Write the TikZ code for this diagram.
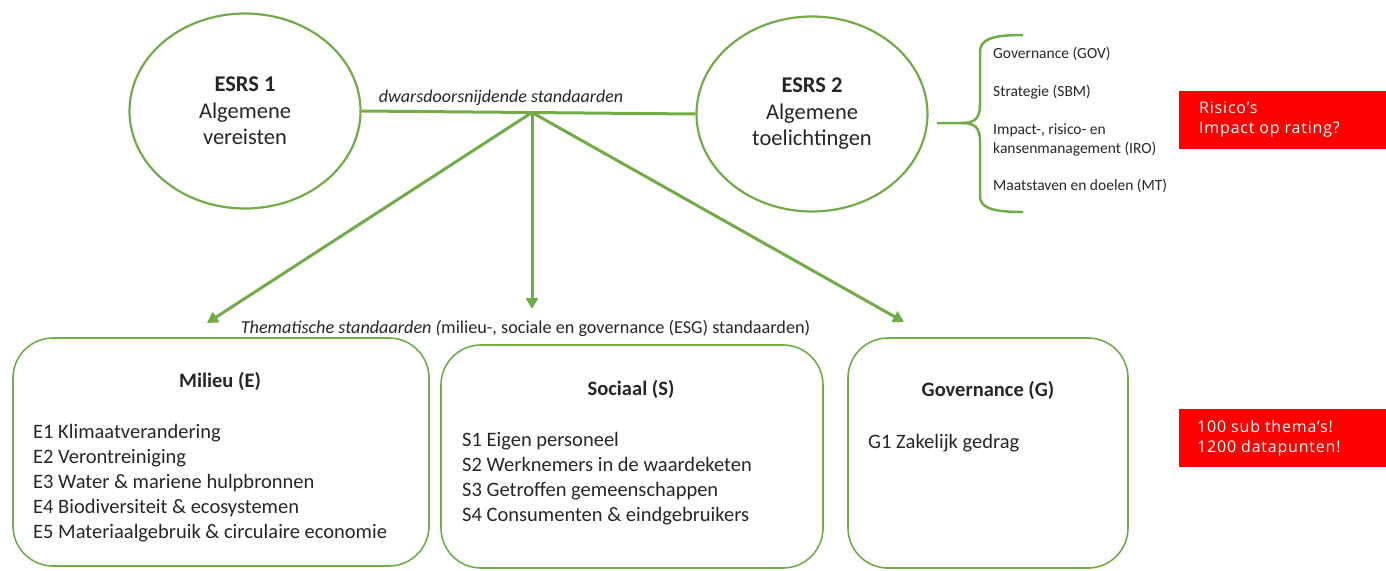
\documentclass[tikz,border=0pt]{standalone}
\usepackage{fontspec}
\setmainfont{Carlito}
\newfontfamily\redfont[LetterSpace=5]{Open Sans}
\usetikzlibrary{shapes.geometric,arrows.meta}
\definecolor{grn}{HTML}{70AD47}
\definecolor{rd}{HTML}{FF0000}
\definecolor{txtc}{HTML}{262626}
\begin{document}
\begin{tikzpicture}[x=1pt,y=-1pt,
  grnline/.style={draw=grn,line width=3pt},
  oval/.style={ellipse,draw=grn,line width=2.2pt,minimum width=231pt,minimum height=195pt,inner sep=0pt,text=txtc,align=center,font=\fontsize{22.5}{26.5}\selectfont},
  tbox/.style={draw=grn,line width=1.6pt,rounded corners=40pt,inner sep=0pt},
  redbox/.style={fill=rd,draw=none,inner sep=0pt},
  redtxt/.style={text=white,inner sep=0pt,anchor=west,align=left,font=\redfont\fontsize{16}{20}\selectfont},
  brtxt/.style={text=txtc,inner sep=0pt,anchor=west,font=\fontsize{15.5}{18}\selectfont},
  head/.style={text=txtc,inner sep=0pt,font=\bfseries\fontsize{20.5}{24}\selectfont},
  items/.style={text=txtc,inner sep=0pt,anchor=north west,align=left,font=\fontsize{20.5}{25}\selectfont},
  arr/.style={grnline,-{Triangle[length=11pt,width=12pt]}}
]
\useasboundingbox (0,0) rectangle (1386,570);

% ellipses
\node[oval] (e1) at (245,111) {\textbf{ESRS 1}\\Algemene\\vereisten};
\node[oval] (e2) at (812,114) {\textbf{ESRS 2}\\Algemene\\toelichtingen};

\draw[grnline] (e1.east) -- (e2.west);
\coordinate (hub) at (532,112.5);
\node[text=txtc,inner sep=0pt,font=\itshape\fontsize{18}{21}\selectfont] (dw) at (501,98) {dwarsdoorsnijdende standaarden};

% arrows
\coordinate (tE) at (207,323);
\coordinate (tS) at (532,309);
\coordinate (tG) at (904,322);
\draw[arr] (hub) -- (tE);
\draw[arr] (hub) -- (tS);
\draw[arr] (hub) -- (tG);

% brace
\coordinate (bs) at (937,123);
\coordinate (bt) at (962,123);
\draw[draw=grn,line width=2.5pt] (bs) -- (bt) .. controls (975,123) and (980,118) .. (980,105) -- (980,52) .. controls (980,40) and (990,35) .. (1023,35);
\draw[draw=grn,line width=2.5pt] (bt) .. controls (975,123) and (980,128) .. (980,141) -- (980,196) .. controls (980,207) and (990,212) .. (1023,212);

\node[brtxt] (b1) at (993,54) {Governance (GOV)};
\node[brtxt] (b2) at (993,92) {Strategie (SBM)};
\node[brtxt] (b3) at (993,130) {Impact-, risico- en};
\node[brtxt] (b4) at (993,149) {kansenmanagement (IRO)};
\node[brtxt] (b5) at (993,186) {Maatstaven en doelen (MT)};

% red boxes
\node[redbox,minimum width=207pt,minimum height=58pt] (r1) at (1282.5,120) {};
\node[redtxt] (r1t) at (1199,120) {Risico’s\\Impact op rating?};
\node[redbox,minimum width=207pt,minimum height=58pt] (r2) at (1282.5,438) {};
\node[redtxt] (r2t) at (1197,438) {100 sub thema’s!\\1200 datapunten!};

% thematic label
\node[text=txtc,inner sep=0pt,font=\fontsize{18.2}{21}\selectfont] (th) at (525.5,328) {\textit{Thematische standaarden (}milieu-, sociale en governance (ESG) standaarden)};

% bottom boxes
\node[tbox,minimum width=416pt,minimum height=228pt] (bE) at (221,452) {};
\node[tbox,minimum width=382pt,minimum height=223pt] (bS) at (632,456.5) {};
\node[tbox,minimum width=280pt,minimum height=230pt] (bG) at (988,453) {};

\node[head] (hE) at (220,381) {Milieu (E)};
\node[head] (hS) at (631,389) {Sociaal (S)};
\node[head] (hG) at (988,390) {Governance (G)};

\node[items] (iE) at (33,424) {E1 Klimaatverandering\\E2 Verontreiniging\\E3 Water \& mariene hulpbronnen\\E4 Biodiversiteit \& ecosystemen\\E5 Materiaalgebruik \& circulaire economie};
\node[items] (iS) at (462,432) {S1 Eigen personeel\\S2 Werknemers in de waardeketen\\S3 Getroffen gemeenschappen\\S4 Consumenten \& eindgebruikers};
\node[items] (iG) at (868,434) {G1 Zakelijk gedrag};
\end{tikzpicture}
\end{document}
